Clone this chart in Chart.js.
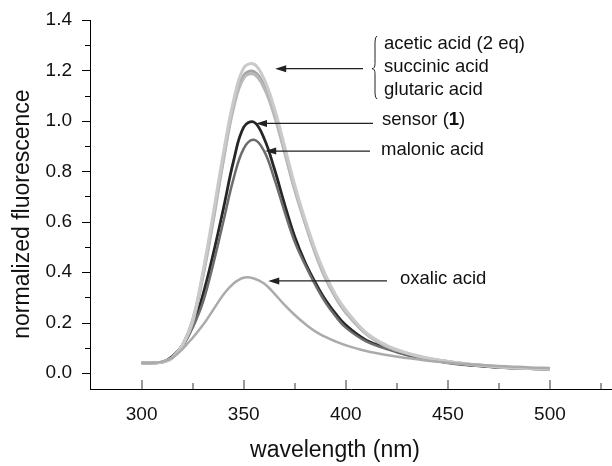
<!DOCTYPE html>
<html>
<head>
<meta charset="utf-8">
<script src="https://cdn.jsdelivr.net/npm/chart.js@4.4.1/dist/chart.umd.min.js"></script>
<style>
  html, body { margin: 0; padding: 0; background: #fff; }
  #wrap { width: 612px; height: 466px; }
</style>
</head>
<body>
<div id="wrap"><canvas id="chart" width="612" height="466"></canvas></div>
<script>
// Comprimentos de onda (nm)
const wavelengths = [300, 305, 310, 315, 320, 325, 330, 335, 340, 345, 350, 355, 360, 365, 370, 375, 380, 385, 390, 395, 400, 410, 420, 430, 440, 450, 460, 470, 480, 490, 500];

// Séries (fluorescência normalizada)
const acetic    = [0.04, 0.04, 0.043, 0.06, 0.11, 0.21, 0.40, 0.63, 0.87, 1.08, 1.21, 1.225, 1.165, 1.05, 0.90, 0.745, 0.61, 0.49, 0.39, 0.31, 0.25, 0.16, 0.11, 0.08, 0.06, 0.046, 0.036, 0.028, 0.022, 0.019, 0.016];
const succinic  = [0.04, 0.04, 0.043, 0.06, 0.11, 0.21, 0.39, 0.61, 0.85, 1.06, 1.18, 1.195, 1.14, 1.03, 0.88, 0.73, 0.60, 0.48, 0.38, 0.30, 0.24, 0.155, 0.105, 0.078, 0.058, 0.045, 0.035, 0.028, 0.022, 0.018, 0.016];
const glutaric  = [0.04, 0.04, 0.043, 0.06, 0.11, 0.20, 0.38, 0.60, 0.84, 1.05, 1.17, 1.185, 1.13, 1.02, 0.875, 0.725, 0.595, 0.475, 0.375, 0.30, 0.24, 0.155, 0.105, 0.078, 0.058, 0.045, 0.035, 0.028, 0.022, 0.018, 0.016];
const sensor    = [0.04, 0.04, 0.043, 0.065, 0.11, 0.19, 0.31, 0.47, 0.65, 0.84, 0.975, 0.995, 0.93, 0.81, 0.67, 0.54, 0.44, 0.36, 0.29, 0.235, 0.19, 0.13, 0.10, 0.075, 0.055, 0.042, 0.032, 0.025, 0.02, 0.017, 0.015];
const malonic   = [0.04, 0.04, 0.043, 0.062, 0.105, 0.18, 0.28, 0.43, 0.60, 0.77, 0.89, 0.925, 0.88, 0.77, 0.64, 0.52, 0.43, 0.35, 0.28, 0.225, 0.18, 0.125, 0.095, 0.07, 0.053, 0.04, 0.031, 0.025, 0.02, 0.017, 0.015];
const oxalic    = [0.04, 0.04, 0.045, 0.06, 0.095, 0.14, 0.19, 0.25, 0.31, 0.355, 0.378, 0.375, 0.355, 0.315, 0.27, 0.23, 0.195, 0.165, 0.143, 0.125, 0.11, 0.087, 0.071, 0.059, 0.049, 0.041, 0.035, 0.03, 0.026, 0.022, 0.02];

// Rótulos das anotações
const noteLabels = ['acetic acid (2 eq)', 'succinic acid', 'glutaric acid', 'sensor (1)', 'malonic acid', 'oxalic acid'];
// Pontas das setas (comprimento de onda, valor)
const arrowTips = [[365.4, 1.207], [356, 0.99], [360.5, 0.88], [362, 0.365]];

function toPoints(values) {
  return wavelengths.map((w, i) => ({ x: w, y: values[i] }));
}

function serie(label, values, color, width) {
  return {
    label: label,
    data: toPoints(values),
    borderColor: color,
    borderWidth: width,
    pointRadius: 0,
    fill: false,
    tension: 0.4
  };
}

const FONT = '"Liberation Sans", Arial, sans-serif';

// Ticks maiores e menores + anotações
const notesPlugin = {
  id: 'notes',
  afterDraw(chart) {
    const { ctx, scales: { x, y } } = chart;
    ctx.save();

    // ticks do eixo y (para fora)
    ctx.strokeStyle = '#000';
    ctx.lineWidth = 1;
    for (let i = 0; i <= 14; i++) {
      const py = Math.round(y.getPixelForValue(i / 10)) + 0.5;
      const len = i % 2 === 0 ? 8 : 5;
      ctx.beginPath();
      ctx.moveTo(x.left - len, py);
      ctx.lineTo(x.left, py);
      ctx.stroke();
    }
    // ticks do eixo x (para dentro, cinza)
    ctx.strokeStyle = '#9a9a9a';
    ctx.lineWidth = 2;
    for (let w = 300; w <= 525; w += 25) {
      const px = Math.round(x.getPixelForValue(w));
      const len = w % 50 === 0 ? 9 : 6;
      ctx.beginPath();
      ctx.moveTo(px, y.bottom);
      ctx.lineTo(px, y.bottom - len);
      ctx.stroke();
    }

    // setas
    ctx.strokeStyle = '#222';
    ctx.fillStyle = '#222';
    ctx.lineWidth = 1.2;
    const ends = [363, 373, 370, 387];
    arrowTips.forEach((t, i) => {
      const tx = x.getPixelForValue(t[0]);
      const ty = y.getPixelForValue(t[1]);
      ctx.beginPath();
      ctx.moveTo(ends[i], ty);
      ctx.lineTo(tx + 8, ty);
      ctx.stroke();
      ctx.beginPath();
      ctx.moveTo(tx, ty);
      ctx.lineTo(tx + 11, ty - 3.5);
      ctx.lineTo(tx + 11, ty + 3.5);
      ctx.closePath();
      ctx.fill();
    });

    // chave
    const bx = 375, by = y.getPixelForValue(arrowTips[0][1]);
    ctx.lineWidth = 1;
    ctx.beginPath();
    ctx.moveTo(bx + 2, 36);
    ctx.quadraticCurveTo(bx, 37, bx, 42);
    ctx.lineTo(bx, by - 5);
    ctx.quadraticCurveTo(bx, by, bx - 3, by);
    ctx.quadraticCurveTo(bx, by, bx, by + 5);
    ctx.lineTo(bx, 93);
    ctx.quadraticCurveTo(bx, 98, bx + 2, 99);
    ctx.stroke();

    // textos
    ctx.fillStyle = '#111';
    ctx.textBaseline = 'middle';
    ctx.textAlign = 'left';
    const normal = '18.5px ' + FONT;
    ctx.font = normal;
    ctx.fillText(noteLabels[0], 384, 44);
    ctx.fillText(noteLabels[1], 384, 67);
    ctx.fillText(noteLabels[2], 384, 90);
    // sensor (1) com o "1" em negrito
    let sx = 382;
    const sy = 120;
    ctx.fillText('sensor (', sx, sy);
    sx += ctx.measureText('sensor (').width;
    ctx.font = 'bold 18.5px ' + FONT;
    ctx.fillText('1', sx, sy);
    sx += ctx.measureText('1').width;
    ctx.font = normal;
    ctx.fillText(')', sx, sy);
    ctx.fillText(noteLabels[4], 381, 150);
    ctx.fillText(noteLabels[5], 400, 279);

    ctx.restore();
  }
};

new Chart(document.getElementById('chart'), {
  type: 'line',
  data: {
    datasets: [
      serie('oxalic acid', oxalic, '#ababab', 2.5),
      serie('acetic acid (2 eq)', acetic, '#cacaca', 3),
      serie('glutaric acid', glutaric, '#b8b8b8', 3),
      serie('succinic acid', succinic, '#a4a4a4', 3),
      serie('malonic acid', malonic, '#6c6c6c', 2.5),
      serie('sensor (1)', sensor, '#262626', 2.8)
    ]
  },
  options: {
    responsive: false,
    animation: false,
    devicePixelRatio: 1,
    layout: { padding: { top: 20, right: 0, left: 0, bottom: 0 } },
    plugins: {
      legend: { display: false },
      tooltip: { enabled: false }
    },
    scales: {
      x: {
        type: 'linear',
        min: 274.7,
        max: 530.4,
        afterFit: s => { s.height = 77; s.paddingLeft = 0; s.paddingRight = 0; },
        grid: { display: false, drawTicks: false },
        border: { display: true, color: '#000', width: 1 },
        ticks: {
          stepSize: 50,
          includeBounds: false,
          autoSkip: false,
          maxRotation: 0,
          padding: 14,
          color: '#111',
          font: { family: FONT, size: 19 },
          callback: v => (v >= 300 && v <= 500) ? String(Math.round(v)) : null
        },
        title: {
          display: true,
          text: 'wavelength (nm)     ',
          color: '#111',
          font: { family: FONT, size: 23 },
          padding: { top: 0, bottom: 2 }
        }
      },
      y: {
        min: -0.0635,
        max: 1.4,
        afterFit: s => { s.width = 90; s.paddingTop = 0; s.paddingBottom = 0; },
        grid: { display: false, drawTicks: false },
        border: { display: true, color: '#000', width: 1 },
        ticks: {
          stepSize: 0.2,
          includeBounds: false,
          autoSkip: false,
          padding: 18,
          color: '#111',
          font: { family: FONT, size: 19 },
          callback: v => v < -0.01 ? null : v.toFixed(1)
        },
        title: {
          display: true,
          text: 'normalized fluorescence   ',
          color: '#111',
          font: { family: FONT, size: 23 },
          padding: { top: 9, bottom: 0 }
        }
      }
    }
  },
  plugins: [notesPlugin]
});
</script>
</body>
</html>
